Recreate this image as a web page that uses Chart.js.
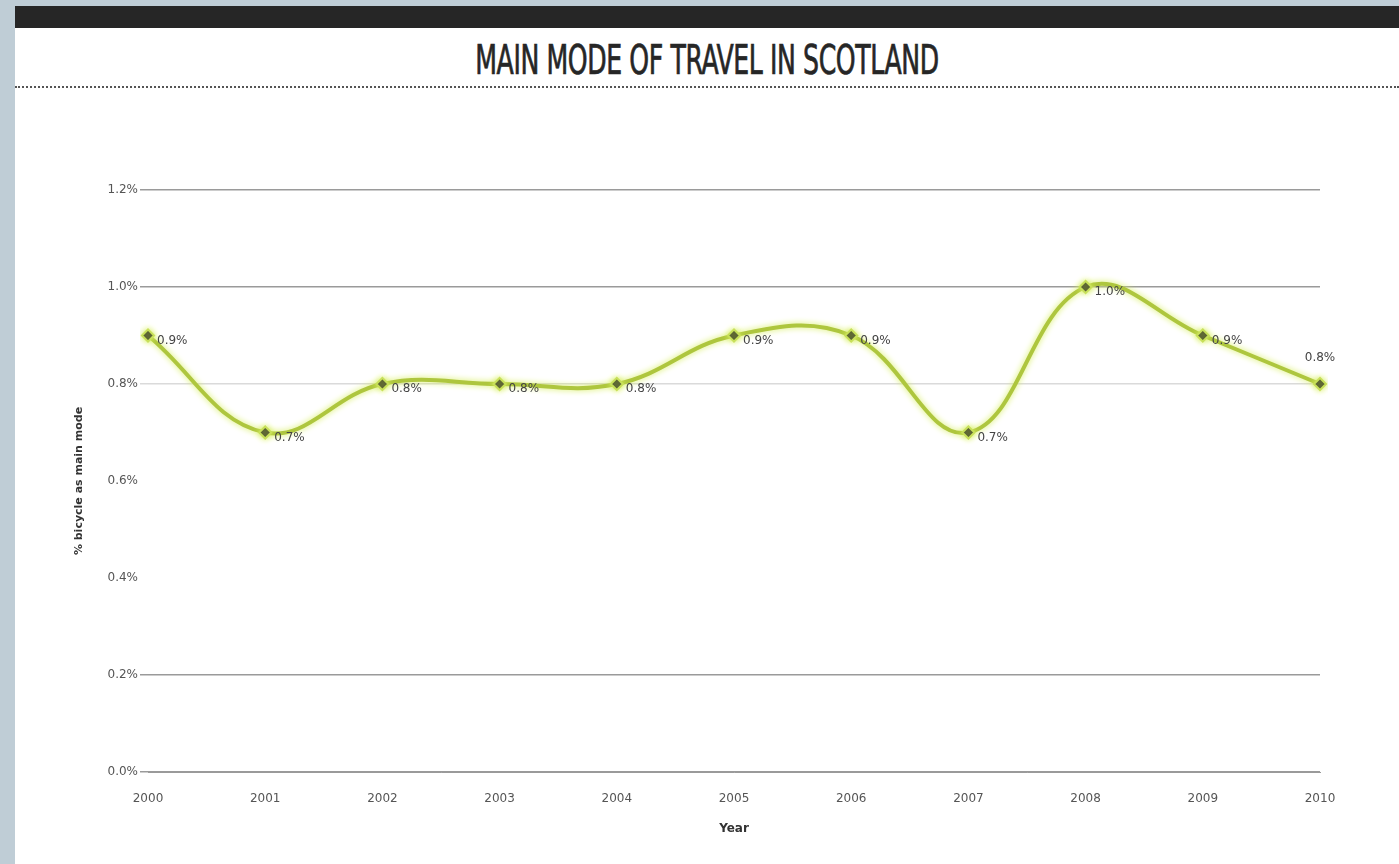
<!DOCTYPE html>
<html>
<head>
<meta charset="utf-8">
<script src="https://cdn.jsdelivr.net/npm/chart.js@4.4.1/dist/chart.umd.min.js"></script>
<style>
  html, body { margin: 0; padding: 0; }
  body { width: 1399px; height: 864px; background: #bfcdd6; position: relative; overflow: hidden; font-family: "Liberation Sans", Arial, sans-serif; }
  .panel { position: absolute; left: 15px; top: 6px; right: 0; bottom: 0; background: #fff; }
  .topbar { position: absolute; left: 0; top: 0; right: 0; height: 22px; background: #262626; }
  .title { position: absolute; left: 0; right: 0; top: 30px; text-align: center; color: #262626;
           font-family: "Liberation Sans Narrow", "DejaVu Sans Condensed", sans-serif; font-size: 28px; font-weight: normal;
           transform: scaleY(1.45); transform-origin: top center; letter-spacing: -0.4px; -webkit-text-stroke: 0.5px #262626; }
  .rule { position: absolute; left: 0; right: 0; top: 80px; border-top: 2px dotted #555; }
  .wrap { position: absolute; left: 0; top: 82px; width: 1384px; height: 776px; }
</style>
</head>
<body>
<div class="panel">
  <div class="topbar"></div>
  <div class="title">MAIN MODE OF TRAVEL IN SCOTLAND</div>
  <div class="rule"></div>
  <div class="wrap"><canvas id="chart" width="1384" height="776"></canvas></div>
</div>
<script>
// share of trips where the bicycle is the main mode of travel
const years = ['2000', '2001', '2002', '2003', '2004', '2005', '2006', '2007', '2008', '2009', '2010'];
const cyclingShare = [0.9, 0.7, 0.8, 0.8, 0.8, 0.9, 0.9, 0.7, 1.0, 0.9, 0.8];
const yTicks = [0, 0.2, 0.4, 0.6, 0.8, 1.0, 1.2];

// only some gridlines show up on the original print, the rest are faint or gone
function gridColour(v) {
  if (Math.abs(v - 0.8) < 1e-6) return '#dadada';
  if (Math.abs(v - 0.6) < 1e-6 || Math.abs(v - 0.4) < 1e-6) return 'rgba(0,0,0,0)';
  return '#9a9a9a';
}

const lineGlow = {
  id: 'lineGlow',
  beforeDatasetDraw(chart) {
    const ctx = chart.ctx;
    ctx.save();
    ctx.shadowColor = '#d6ee5c';
    ctx.shadowBlur = 6;
  },
  afterDatasetDraw(chart) {
    chart.ctx.restore();
  }
};

const valueLabels = {
  id: 'valueLabels',
  afterDatasetsDraw(chart) {
    const ctx = chart.ctx;
    const pts = chart.getDatasetMeta(0).data;
    ctx.save();
    ctx.font = '12px "DejaVu Sans", sans-serif';
    ctx.fillStyle = '#444';
    ctx.textBaseline = 'middle';
    pts.forEach((p, i) => {
      const txt = cyclingShare[i].toFixed(1) + '%';
      if (i === pts.length - 1) {
        ctx.textAlign = 'center';
        ctx.fillText(txt, p.x, p.y - 26);
      } else {
        ctx.textAlign = 'left';
        ctx.fillText(txt, p.x + 9, p.y + 5);
      }
    });
    ctx.restore();
  }
};

new Chart(document.getElementById('chart'), {
  type: 'line',
  data: {
    labels: years,
    datasets: [{
      data: cyclingShare,
      borderColor: '#aec63e',
      borderWidth: 4,
      tension: 0.4,
      pointStyle: 'rectRot',
      pointRadius: 6,
      pointBackgroundColor: '#1e1e1e',
      pointBorderColor: '#c8e05a',
      pointBorderWidth: 2,
      fill: false
    }]
  },
  options: {
    responsive: false,
    animation: false,
    layout: { padding: { left: 54, right: 79, top: 102, bottom: 24 } },
    plugins: { legend: { display: false }, tooltip: { enabled: false } },
    scales: {
      x: {
        offset: false,
        afterFit: s => { s.height = 68; },
        grid: { display: false },
        border: { color: '#9a9a9a' },
        ticks: { color: '#555', font: { size: 12, family: 'DejaVu Sans' }, padding: 12, maxRotation: 0 },
        title: { display: true, text: 'Year', color: '#333', font: { size: 12, weight: 'bold', family: 'DejaVu Sans' }, padding: { top: 4 } }
      },
      y: {
        min: 0,
        max: 1.2,
        afterFit: s => { s.width = 79; },
        afterBuildTicks: s => { s.ticks = yTicks.map(v => ({ value: v })); },
        grid: { color: ctx => gridColour(ctx.tick ? ctx.tick.value : 0), lineWidth: 1.5, tickLength: 8 },
        border: { display: false },
        ticks: { color: '#555', font: { size: 12, family: 'DejaVu Sans' }, padding: 2, callback: v => v.toFixed(1) + '%' },
        title: { display: true, text: '% bicycle as main mode', color: '#333', font: { size: 11, weight: 'bold', family: 'DejaVu Sans' } }
      }
    }
  },
  plugins: [lineGlow, valueLabels]
});
</script>
</body>
</html>
